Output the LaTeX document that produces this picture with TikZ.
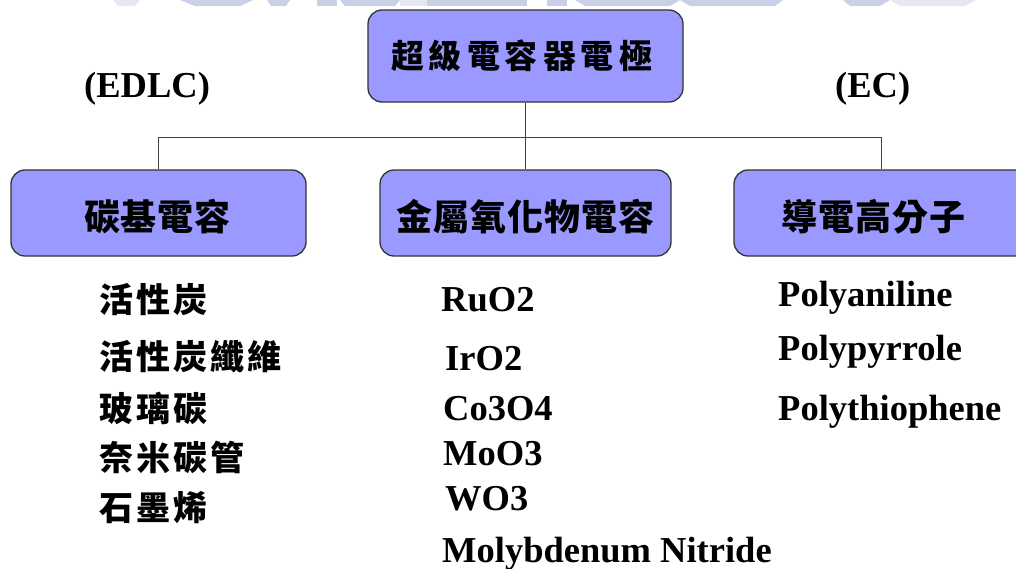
\documentclass[tikz,border=0pt]{standalone}
\usepackage{fontspec}
\setmainfont{Liberation Serif}
\newfontfamily\cjk{Noto Sans CJK TC}
\newcommand\topgap{\hspace{5pt}}
\newcommand\boxgap{\hspace{1pt}}
\newcommand\listgap{\hspace{3pt}}
\definecolor{boxfill}{HTML}{9999FF}
\definecolor{wm}{HTML}{BCC4E2}
\begin{document}
\begin{tikzpicture}[x=1pt,y=-1pt,
 box/.style={draw=black!80, line width=1.3pt, fill=boxfill, rounded corners=14pt, inner sep=0pt},
 conn/.style={draw=black!75, line width=1.3pt},
 boxtext/.style={inner sep=0pt, font=\cjk\bfseries\fontsize{36}{40}\selectfont},
 toptext/.style={inner sep=0pt, font=\cjk\bfseries\fontsize{33}{36}\selectfont},
 item/.style={inner sep=0pt, anchor=base west, font=\bfseries\fontsize{36.5}{40}\selectfont},
 cjkitem/.style={inner sep=0pt, anchor=west, font=\cjk\bfseries\fontsize{34}{38}\selectfont}]
\clip (0,0) rectangle (1016,568);
\useasboundingbox (0,0) rectangle (1016,568);
% faint watermark at the top edge
\begin{scope}[opacity=0.8]
\fill[wm!50] (113,0) -- (140,0) -- (135,6) -- (118,6) -- cycle;
\fill[wm] (180,0) -- (253,0) -- (240,6) -- (195,6) -- cycle;
\fill[wm] (267,0) -- (290,0) -- (286,6) -- (271,6) -- cycle;
\fill[wm] (317,0) -- (337,0) -- (337,6) -- (317,6) -- cycle;
\fill[wm] (340,0) -- (400,0) -- (395,6) -- (345,6) -- cycle;
\fill[wm!50] (400,0) -- (427,0) -- (427,6) -- (400,6) -- cycle;
\fill[wm] (427,0) -- (527,0) -- (527,6) -- (427,6) -- cycle;
\fill[wm] (547,0) -- (567,0) -- (567,6) -- (547,6) -- cycle;
\fill[wm] (575,0) -- (680,0) -- (670,6) -- (585,6) -- cycle;
\fill[wm] (680,0) -- (783,0) -- (775,6) -- (690,6) -- cycle;
\fill[wm] (843,0) -- (890,0) -- (880,6) -- (850,6) -- cycle;
\fill[wm!50] (890,0) -- (976,0) -- (965,6) -- (900,6) -- cycle;
\end{scope}
% boxes
\node[box, minimum width=315pt, minimum height=92pt] (top) at (525.5,56) {};
\node[box, minimum width=295pt, minimum height=86pt] (left) at (158.5,213) {};
\node[box, minimum width=291pt, minimum height=86pt] (mid) at (525.5,213) {};
\node[box, minimum width=295pt, minimum height=86pt] (right) at (881.5,213) {};
\node[toptext] (toplab) at ([xshift=-4pt]top.center) {超\topgap 級\topgap 電\topgap 容\topgap 器\topgap 電\topgap 極};
\node[boxtext] (leftlab) at ([xshift=-1pt,yshift=-4pt]left.center) {碳\boxgap 基\boxgap 電\boxgap 容};
\node[boxtext] (midlab) at ([yshift=-4pt]mid.center) {金\boxgap 屬\boxgap 氧\boxgap 化\boxgap 物\boxgap 電\boxgap 容};
\node[boxtext] (rightlab) at ([xshift=-8pt,yshift=-4pt]right.center) {導\boxgap 電\boxgap 高\boxgap 分\boxgap 子};
% connectors
\draw[conn] (top.south) -- (mid.north);
\draw[conn] (left.north) -- ++(0,-32) -| (right.north);
% side labels
\node[item] (edlc) at (84,97) {(EDLC)};
\node[item] (ec) at (835,97) {(EC)};
% left list
\node[cjkitem] (c1) at (99,300) {活\listgap 性\listgap 炭};
\node[cjkitem] (c2) at (99,357) {活\listgap 性\listgap 炭\listgap 纖\listgap 維};
\node[cjkitem] (c3) at (99,408) {玻\listgap 璃\listgap 碳};
\node[cjkitem] (c4) at (99,457) {奈\listgap 米\listgap 碳\listgap 管};
\node[cjkitem] (c5) at (99,508) {石\listgap 墨\listgap 烯};
% middle list
\node[item] (m1) at (441,311) {RuO2};
\node[item] (m2) at (445,370) {IrO2};
\node[item] (m3) at (443,420) {Co3O4};
\node[item] (m4) at (443,465) {MoO3};
\node[item] (m5) at (445,510) {WO3};
\node[item] (m6) at (442,562) {Molybdenum Nitride};
% right list
\node[item] (r1) at (778,306) {Polyaniline};
\node[item] (r2) at (778,360) {Polypyrrole};
\node[item] (r3) at (778,420) {Polythiophene};
\end{tikzpicture}
\end{document}
